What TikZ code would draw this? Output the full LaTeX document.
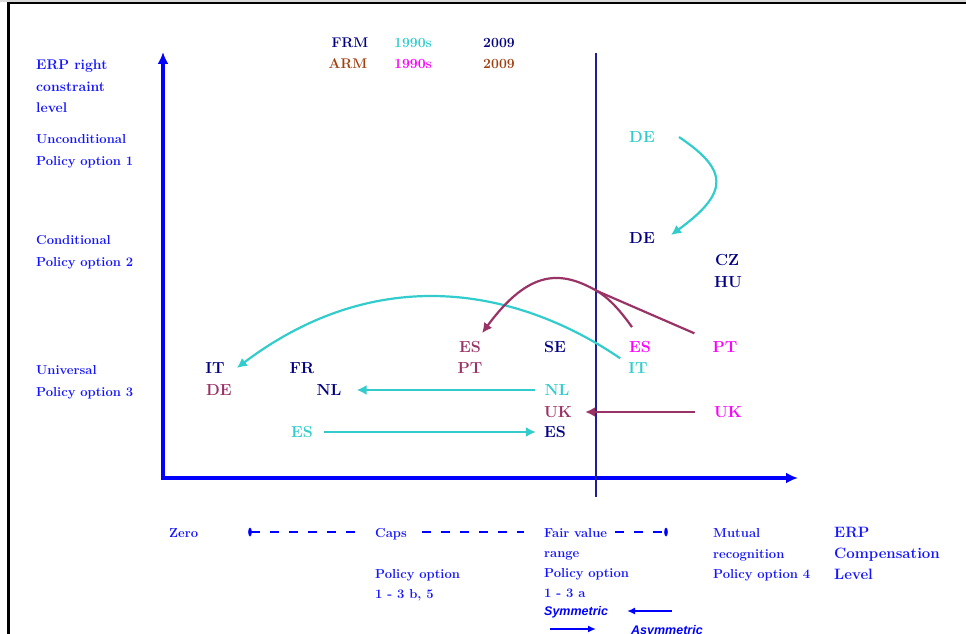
\documentclass[tikz,border=0pt]{standalone}
\usepackage{fontspec}
\newfontfamily\keyfont{Liberation Sans}
\usetikzlibrary{arrows.meta, positioning}

\definecolor{axisblue}{RGB}{0,0,255}
\definecolor{labelblue}{RGB}{20,20,255}
\definecolor{navy}{RGB}{0,0,128}
\definecolor{midline}{RGB}{30,30,150}
\definecolor{frmcyan}{RGB}{51,204,204}
\definecolor{armpink}{RGB}{255,0,255}
\definecolor{plum}{RGB}{153,51,102}
\definecolor{armbrown}{RGB}{160,64,16}

\tikzset{
  lbl/.style={anchor=north west, inner sep=0pt, align=left, text=labelblue,
    font=\fontsize{13}{22}\selectfont\bfseries},
  botlbl/.style={lbl, font=\fontsize{13}{20}\selectfont\bfseries},
  cc/.style={inner sep=4pt, font=\fontsize{16}{18}\selectfont\bfseries},
  leg/.style={inner sep=0pt, font=\fontsize{14}{16}\selectfont\bfseries},
  frm/.style={draw=frmcyan, line width=2.2pt, -{Latex[length=10pt,width=10pt]}},
  arm/.style={draw=plum, line width=2.2pt, -{Latex[length=10pt,width=10pt]}},
  scaledash/.style={draw=axisblue, line width=2.2pt, dash pattern=on 9pt off 10pt},
  keyarrow/.style={draw=axisblue, line width=2pt, -{Latex[length=8pt,width=7pt]}},
}

\begin{document}
\begin{tikzpicture}[x=1pt, y=-1pt]
\useasboundingbox (0,0) rectangle (966,634);

% frame
\fill[gray!30] (0,0) rectangle (966,1.8);
\draw[line width=1.8pt] (8,2.8) -- (966,2.8);
\draw[line width=2.6pt] (8.7,2) -- (8.7,634);

% axes
\coordinate (O) at (163,478);
\coordinate (ytop) at (163,52);
\coordinate (xend) at (798,478);
\draw[axisblue, line width=3.5pt, {Latex[length=12pt,width=11pt]}-{Latex[length=12pt,width=11pt]}] (ytop) -- (O) -- (xend);
\draw[midline, line width=1.8pt] (596,53) -- (596,497);

% left scale
\node[lbl, font=\fontsize{14}{21.5}\selectfont\bfseries] (rightlvl) at (36,60) {ERP right\\constraint\\level};
\node[lbl] (uncond) at (36,134) {Unconditional\\Policy option 1};
\node[lbl] (cond) at (36,235.4) {Conditional\\Policy option 2};
\node[lbl] (univ) at (36,364.8) {Universal\\Policy option 3};

% legend
\node[leg, text=navy] (frm) at (350,43) {FRM};
\node[leg, text=frmcyan] (frmold) at (413,43) {1990s};
\node[leg, text=navy] (frmnew) at (499,43) {2009};
\node[leg, text=armbrown] (arm) at (348,64) {ARM};
\node[leg, text=armpink] (armold) at (413,64) {1990s};
\node[leg, text=armbrown] (armnew) at (499,64) {2009};

% countries
\node[cc, text=frmcyan] (DEc) at (642,137) {DE};
\node[cc, text=navy] (DEn) at (642,238) {DE};
\node[cc, text=navy] (CZ) at (727,260) {CZ};
\node[cc, text=navy] (HU) at (728,282) {HU};
\node[cc, text=armpink] (ESm) at (640,347) {ES};
\node[cc, text=armpink] (PTm) at (725,347) {PT};
\node[cc, text=frmcyan] (ITc) at (638,368) {IT};
\node[cc, text=navy] (SE) at (555,347) {SE};
\node[cc, text=plum] (ESp) at (470,347) {ES};
\node[cc, text=plum] (PTp) at (470,368) {PT};
\node[cc, text=navy] (ITn) at (215,368) {IT};
\node[cc, text=plum] (DEp) at (219,390) {DE};
\node[cc, text=navy] (FR) at (302,368) {FR};
\node[cc, text=navy] (NLn) at (329,390) {NL};
\node[cc, text=frmcyan] (NLc) at (557,390) {NL};
\node[cc, text=plum] (UKp) at (558,412) {UK};
\node[cc, text=armpink] (UKm) at (728,412) {UK};
\node[cc, text=frmcyan] (ESc) at (302,432) {ES};
\node[cc, text=navy] (ESn) at (555,432) {ES};

% moves
\draw[frm] ([xshift=20pt]DEc.east) .. controls (728,170) and (730,192) .. ([xshift=12pt,yshift=3pt]DEn.east);
\draw[frm] ([xshift=-4pt]ITc.north west) .. controls (520,290) and (380,260) .. ([xshift=8pt]ITn.east);
\draw[frm] ([xshift=-5pt]NLc.west) -- ([xshift=11pt]NLn.east);
\draw[frm] ([xshift=7pt]ESc.east) -- ([xshift=-4pt]ESn.west);
\draw[arm] ([xshift=-15pt]UKm.west) -- ([xshift=9pt]UKp.east);
\coordinate (jn) at (597,291);
\draw[arm] ([xshift=-14pt,yshift=4pt]PTm.north west) -- (jn) .. controls (562,271) and (530,268) .. ([xshift=-3pt,yshift=4pt]ESp.north east);
\draw[draw=plum, line width=2.2pt] ([xshift=-8pt,yshift=10pt]ESm.north) .. controls (624,316) and (612,300) .. (jn);

% bottom scale
\node[botlbl] (zero) at (169,528.4) {Zero};
\node[botlbl] (caps) at (375,528.4) {Caps};
\node[botlbl, font=\fontsize{13}{19.5}\selectfont\bfseries] (capsopt) at (375,569.4) {Policy option\\1 - 3 b, 5};
\node[botlbl] (fair) at (544,528.4) {Fair value};
\node[botlbl] (fairopt) at (544,548.4) {\vphantom{l}range\\Policy option\\1 - 3 a};
\node[botlbl, font=\fontsize{13}{20.5}\selectfont\bfseries] (mutual) at (713,528.4) {Mutual\\recognition\\Policy option 4};
\node[botlbl, font=\fontsize{15}{21}\selectfont\bfseries] (complvl) at (834,526.8) {ERP\\Compensation\\Level};

\fill[axisblue] (250,532) ellipse [x radius=1.8pt, y radius=4.5pt];
\fill[axisblue] (666,532) ellipse [x radius=1.8pt, y radius=4.5pt];
\draw[scaledash] (251,532) -- (361,532);
\draw[scaledash] (422,532) -- (524,532);
\draw[scaledash] (615,532) -- (665,532);

% key
\node[anchor=base west, inner sep=0pt, text=axisblue, font=\keyfont\bfseries\itshape\fontsize{12.5}{14}\selectfont] (sym) at (544,615.5) {Symmetric};
\node[anchor=base west, inner sep=0pt, text=axisblue, font=\keyfont\bfseries\itshape\fontsize{12.5}{14}\selectfont] (asym) at (631,634) {Asymmetric};
\coordinate (symtail) at (672,611);
\coordinate (asymtail) at (550,629);
\draw[keyarrow] (symtail) -- +(-45,0);
\draw[keyarrow] (asymtail) -- +(46,0);
\end{tikzpicture}
\end{document}
